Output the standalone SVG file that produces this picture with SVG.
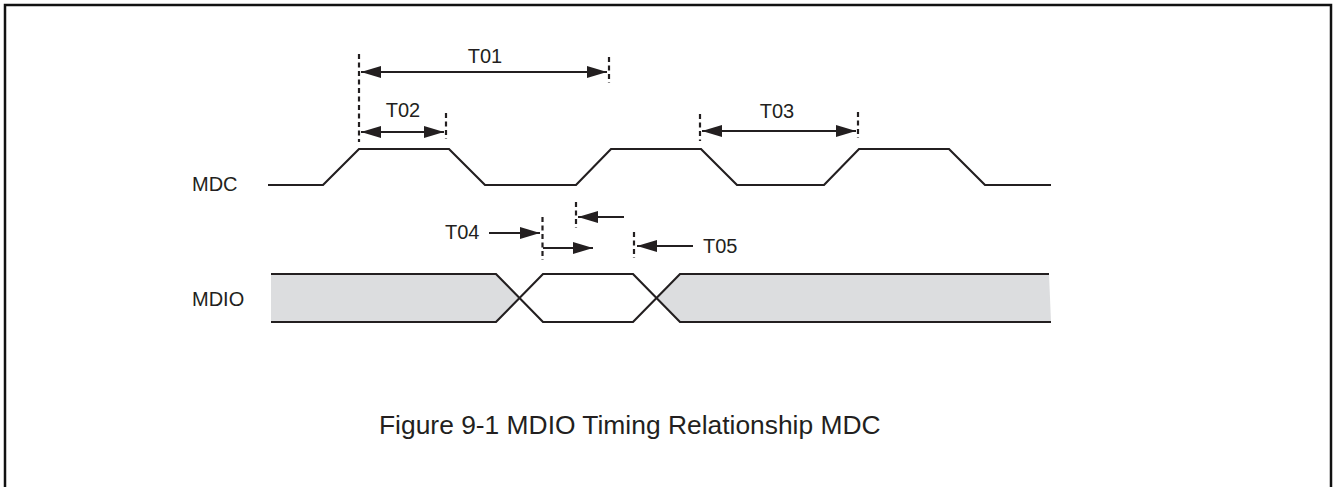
<svg xmlns="http://www.w3.org/2000/svg" width="1333" height="487" viewBox="0 0 1333 487">
<style>
.t{font-family:"Liberation Sans",Arial,sans-serif;font-size:20px;fill:#231f20}
.w{fill:none;stroke:#231f20;stroke-width:2.2;stroke-linejoin:miter}
.d{stroke:#231f20;stroke-width:2.2;stroke-dasharray:5 3.5;fill:none}
.a{stroke:#231f20;stroke-width:2.2;fill:none}
.g{fill:#dcdddf;stroke:none}
</style>
<defs>
<marker id="ah" markerUnits="userSpaceOnUse" markerWidth="20" markerHeight="12" refX="20" refY="6" orient="auto-start-reverse">
<path d="M0,0 L20,6 L0,12 z" fill="#231f20"/>
</marker>
</defs>
<g id="frame"><rect x="5" y="5" width="1326" height="500" fill="#fff" stroke="#111" stroke-width="2.5"/></g>
<g id="mdc"><text class="t" x="192" y="191">MDC</text>
<polyline class="w" points="268,185 323,185 359,149 449,149 485,185 576,185 611,149 701,149 737,185 824,185 859,149 949,149 985,185 1051,185"/></g>
<g id="mdio"><text class="t" x="192" y="306">MDIO</text>
<polygon class="g" points="271,274 496,274 519.5,298 496,322 271,322"/>
<polygon class="g" points="656.5,298 680,274 1049,274 1051,322 680,322"/>
<polyline class="w" points="271,274 496,274 543,322 633,322 680,274 1049,274"/>
<polyline class="w" points="271,322 496,322 543,274 633,274 680,322 1051,322"/></g>
<g id="labels">
<text class="t" x="485" y="63" text-anchor="middle">T01</text>
<text class="t" x="403" y="117" text-anchor="middle">T02</text>
<text class="t" x="777" y="118" text-anchor="middle">T03</text>
<text class="t" x="445" y="239">T04</text>
<text class="t" x="703" y="253">T05</text>
</g>
<g id="connectors">
<line class="d" x1="359" y1="54" x2="359" y2="142"/>
<line class="d" x1="609" y1="57" x2="609" y2="83"/>
<line class="d" x1="446" y1="113" x2="446" y2="139"/>
<line class="d" x1="700" y1="114" x2="700" y2="141"/>
<line class="d" x1="858" y1="112" x2="858" y2="138"/>
<line class="d" x1="542.5" y1="217" x2="542.5" y2="260"/>
<line class="d" x1="576" y1="202" x2="576" y2="228"/>
<line class="d" x1="634" y1="232" x2="634" y2="258"/>
<line class="a" x1="361" y1="72" x2="607" y2="72" marker-start="url(#ah)" marker-end="url(#ah)"/>
<line class="a" x1="361" y1="132" x2="444" y2="132" marker-start="url(#ah)" marker-end="url(#ah)"/>
<line class="a" x1="702" y1="131" x2="856" y2="131" marker-start="url(#ah)" marker-end="url(#ah)"/>
<line class="a" x1="489" y1="233" x2="540" y2="233" marker-end="url(#ah)"/>
<line class="a" x1="543" y1="248" x2="593" y2="248" marker-end="url(#ah)"/>
<line class="a" x1="624" y1="217" x2="578" y2="217" marker-end="url(#ah)"/>
<line class="a" x1="693" y1="246" x2="637" y2="246" marker-end="url(#ah)"/>
</g>
<g id="caption"><text class="t" x="379" y="434" style="font-size:26.4px">Figure 9-1 MDIO Timing Relationship MDC</text></g>
</svg>
